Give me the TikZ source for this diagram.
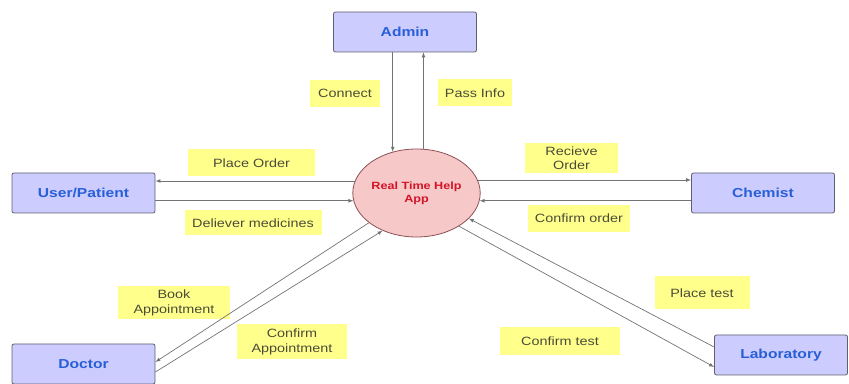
\documentclass[tikz,border=0pt]{standalone}
\usepackage{fontspec}
\setmainfont{Liberation Sans}[FakeStretch=1.2]
\usetikzlibrary{arrows,shapes}

\definecolor{boxfill}{RGB}{204,204,255}
\definecolor{boxline}{RGB}{95,95,110}
\definecolor{boxtext}{RGB}{40,95,215}
\definecolor{hubfill}{RGB}{246,200,200}
\definecolor{hubline}{RGB}{140,80,85}
\definecolor{hubtext}{RGB}{210,20,40}
\definecolor{notefill}{RGB}{255,255,140}
\definecolor{notetext}{RGB}{75,75,55}
\definecolor{linegray}{RGB}{115,115,115}

\begin{document}
\begin{tikzpicture}[x=1pt,y=1pt,
    block/.style={
      draw=boxline,
      fill=boxfill,
      shape=rectangle,
      rounded corners=2pt,
      align=center,
      minimum width=143pt,
      minimum height=40pt,
      text=boxtext,
      font=\fontsize{13}{15}\selectfont\bfseries,
      thick
    },
    hub/.style={
      draw=hubline,
      fill=hubfill,
      shape=ellipse,
      align=center,
      minimum width=123pt,
      minimum height=88pt,
      inner sep=0pt,
      text=hubtext,
      font=\fontsize{10.5}{13}\selectfont\bfseries,
      thick
    },
    note/.style={
      fill=notefill,
      align=center,
      minimum height=27pt,
      inner sep=2pt,
      text=notetext,
      font=\fontsize{12}{14.5}\selectfont
    },
    flow/.style={->,>=latex,draw=linegray,line width=0.7pt}
    ]
    \useasboundingbox (0,0) rectangle (849,383);
    %\draw (0,0) rectangle (849,383);
    \node[hub] (App) at (416.5,190) {Real Time Help\\App};
    \node[block] (Admin) at (405,351) {Admin};
    \node[block] (User) at (83.5,190) {User/Patient};
    \node[block] (Chemist) at (763,190) {Chemist};
    \node[block] (Doctor) at (83.5,19) {Doctor};
    \node[block,minimum width=133pt] (Lab) at (781,28) {Laboratory};

    \node[note,minimum width=70pt] (connect) at (345,289.5) {Connect};
    \node[note,minimum width=74pt] (passinfo) at (475,290) {Pass Info};
    \node[note,minimum width=127pt] (placeorder) at (251.5,220) {Place Order};
    \node[note,minimum width=137pt,minimum height=25pt] (deliver) at (253,160) {Deliever medicines};
    \node[note,minimum width=93pt,minimum height=30pt] (recieve) at (571.5,225) {Recieve\\Order};
    \node[note,minimum width=102pt] (confirmorder) at (579,164.5) {Confirm order};
    \node[note,minimum width=112pt,minimum height=33pt] (book) at (174,80) {Book\\Appointment};
    \node[note,minimum width=110pt,minimum height=35pt] (confirmappt) at (292,41) {Confirm\\Appointment};
    \node[note,minimum width=95pt,minimum height=33pt] (placetest) at (702,90) {Place test};
    \node[note,minimum width=120pt,minimum height=28pt] (confirmtest) at (560,42) {Confirm test};

    %\draw[flow] (Admin) -- (App);
    \draw[flow] (Admin.south -| App.120) -- (App.120);
    \draw[flow] (App.81) -- (App.81 |- Admin.south);
    \draw[flow] (App.169) -- (App.169 -| User.east);
    \draw[flow] (User.east |- App.187) -- (App.187);
    \draw[flow] (App.12) -- (App.12 -| Chemist.west);
    \draw[flow] (Chemist.west |- App.353) -- (App.353);
    \draw[flow] (App.212) -- ([yshift=2pt]Doctor.east);
    \draw[flow] ([yshift=-8pt]Doctor.east) -- (App.228);
    \draw[flow] ([yshift=8pt]Lab.west) -- (App.334);
    \draw[flow] (App.322) -- ([yshift=-12pt]Lab.west);
  \end{tikzpicture}
\end{document}
